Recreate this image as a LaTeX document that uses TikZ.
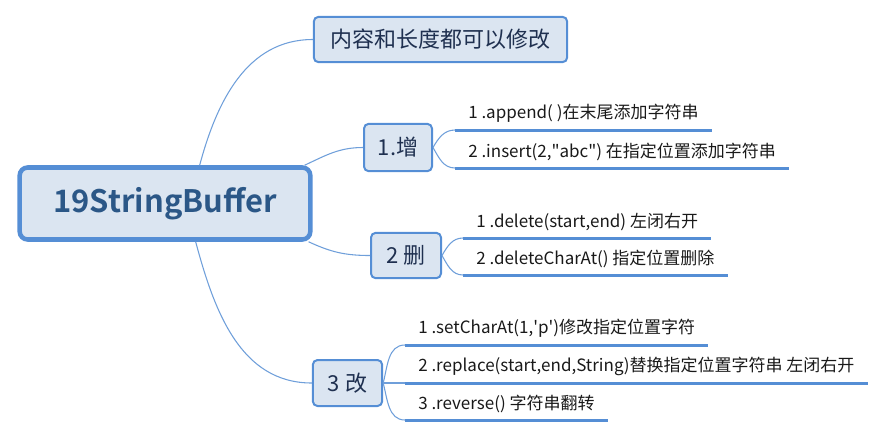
\documentclass[tikz,border=0pt]{standalone}
\usepackage{fontspec}
\setmainfont{Noto Sans CJK SC}[BoldFont={Noto Sans CJK SC Bold}]
\usepackage{xcolor}
\usetikzlibrary{positioning}
\definecolor{boxfill}{HTML}{DBE5F1}
\definecolor{boxline}{HTML}{558ED5}
\definecolor{linkline}{HTML}{6F9FDA}
\definecolor{roottext}{HTML}{2B5787}
\definecolor{boxtext}{HTML}{1F3050}

\begin{document}
\begin{tikzpicture}[x=0.75pt,y=-0.75pt]
\tikzstyle{root} = [rectangle, draw=boxline, fill=boxfill, line width=3.4pt, rounded corners=6pt, minimum width=218pt, minimum height=54pt, text=roottext, font=\fontsize{23.2}{27}\selectfont\bfseries]
\tikzstyle{topic} = [rectangle, draw=boxline, fill=boxfill, line width=1.5pt, rounded corners=3.5pt, text=boxtext, font=\fontsize{16.5}{20}\selectfont]
\tikzstyle{leaf} = [inner xsep=9.75pt, inner ysep=0pt, minimum height=24pt, anchor=south west, text=black!90, font=\fontsize{12.75}{15}\selectfont]
\tikzstyle{underline} = [draw=boxline, line width=2.25pt]
\tikzstyle{link} = [draw=linkline, line width=0.8pt]

\useasboundingbox (0,0) rectangle (886,437);

% main topics
\node (sb) [root] at (165,203.5) {19StringBuffer};
\node (note) [topic, minimum width=190pt, minimum height=34pt] at (440.5,39.5) {内容和长度都可以修改};
\node (add) [topic, minimum width=51pt, minimum height=35.5pt] at (398,147.5) {1.增};
\node (del) [topic, minimum width=52.5pt, minimum height=34pt] at (406,255.5) {2 删};
\node (mod) [topic, minimum width=52pt, minimum height=34.5pt] at (347.5,383) {3 改};

% leaves
\node (add1) [leaf] at (455,130) {1 .append( )在末尾添加字符串};
\node (add2) [leaf] at (455,168) {2 .insert(2,\textquotedbl abc\textquotedbl) 在指定位置添加字符串};
\node (del1) [leaf] at (463,238) {1 .delete(start,end) 左闭右开};
\node (del2) [leaf] at (463,275) {2 .deleteCharAt() 指定位置删除};
\node (mod1) [leaf] at (405,345) {1 .setCharAt(1,\textquotesingle p\textquotesingle)修改指定位置字符};
\node (mod2) [leaf] at (405,383) {2 .replace(start,end,String)替换指定位置字符串 左闭右开};
\node (mod3) [leaf] at (405,420) {3 .reverse() 字符串翻转};

\foreach \n in {add1,add2,del1,del2,mod1,mod2,mod3}
  \draw [underline] (\n.south west) -- (\n.south east);

% connectors
\draw [link] ([xshift=26pt]sb.north) to[out=75,in=180] (note.west);
\draw [link] ([xshift=-6pt]sb.north east) to[out=25,in=180] (add.west);
\draw [link] ([xshift=-3pt]sb.south east) to[out=-25,in=180] (del.west);
\draw [link] ([xshift=23pt]sb.south) to[out=-75,in=180] (mod.west);

\draw [link] (add.east) to[out=60,in=180] (add1.south west);
\draw [link] (add.east) to[out=-60,in=180] (add2.south west);
\draw [link] (del.east) to[out=60,in=180] (del1.south west);
\draw [link] (del.east) to[out=-60,in=180] (del2.south west);
\draw [link] (mod.east) to[out=75,in=180] (mod1.south west);
\draw [link] (mod.east) -- (mod2.south west);
\draw [link] (mod.east) to[out=-75,in=180] (mod3.south west);

\end{tikzpicture}
\end{document}
